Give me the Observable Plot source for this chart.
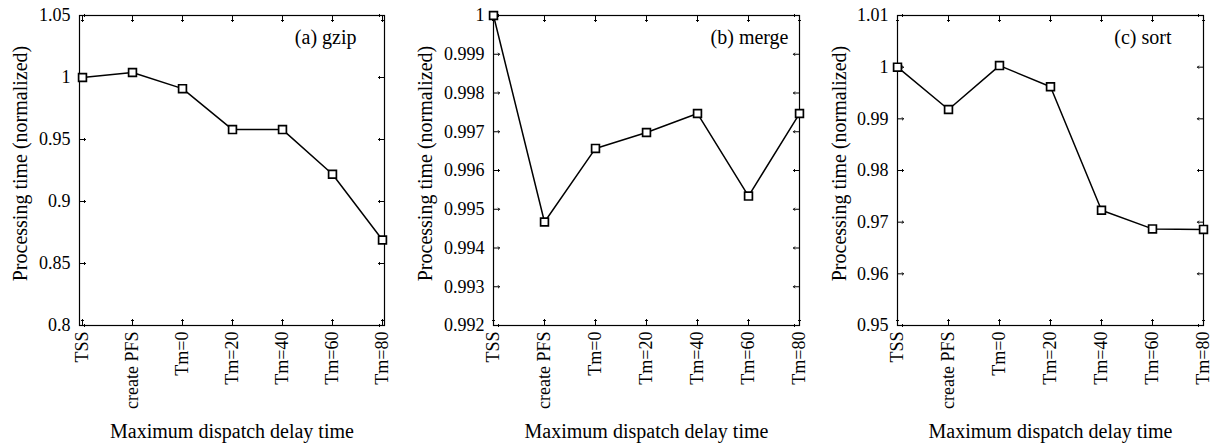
<!DOCTYPE html>
<html>
<head>
<meta charset="utf-8">
<script src="https://cdn.jsdelivr.net/npm/d3@7"></script>
<script src="https://cdn.jsdelivr.net/npm/@observablehq/plot@0.6"></script>
<style>
  html, body { margin: 0; padding: 0; background: #fff; }
  #wrap { position: relative; width: 1214px; height: 445px; font-family: "Liberation Serif", "Times New Roman", serif; }
  .panel { position: absolute; top: 0; }
</style>
</head>
<body>
<div id="wrap"></div>
<script>
const categories = ["TSS", "create PFS", "Tm=0", "Tm=20", "Tm=40", "Tm=60", "Tm=80"];
const gzipValues  = [1.000, 1.004, 0.991, 0.958, 0.958, 0.922, 0.869];
const mergeValues = [1.0000, 0.99467, 0.99657, 0.99698, 0.99747, 0.99534, 0.99747];
const sortValues  = [1.0000, 0.9918, 1.0003, 0.9962, 0.9723, 0.9687, 0.9686];
const gzipTicks  = [0.8, 0.85, 0.9, 0.95, 1, 1.05];
const mergeTicks = [0.992, 0.993, 0.994, 0.995, 0.996, 0.997, 0.998, 0.999, 1];
const sortTicks  = [0.95, 0.96, 0.97, 0.98, 0.99, 1, 1.01];
const panelTitles = ["(a) gzip", "(b) merge", "(c) sort"];
const xLabel = "Maximum dispatch delay time";
const yLabel = "Processing time (normalized)";

const panels = [
  {values: gzipValues,  ticks: gzipTicks,  title: panelTitles[0], left: 0,   width: 405, ml: 79, mr: 21, tdx: -28, ydx: -59},
  {values: mergeValues, ticks: mergeTicks, title: panelTitles[1], left: 405, width: 405, ml: 88, mr: 11, tdx: -11, ydx: -68},
  {values: sortValues,  ticks: sortTicks,  title: panelTitles[2], left: 810, width: 404, ml: 87, mr: 11, tdx: -32, ydx: -58}
];

const fmt = d => String(Math.round(d * 1000) / 1000);
const FS = 18;
const LFS = 20;

for (const p of panels) {
  const data = categories.map((c, i) => ({cat: c, v: p.values[i]}));
  const chart = Plot.plot({
    width: p.width,
    height: 445,
    marginLeft: p.ml,
    marginRight: p.mr,
    marginTop: 15,
    marginBottom: 120,
    style: {fontFamily: '"Liberation Serif", "Times New Roman", serif', fontSize: FS + "px", color: "black", background: "white"},
    x: {type: "point", domain: categories, padding: 0, label: null},
    y: {domain: [p.ticks[0], p.ticks[p.ticks.length - 1]], label: null},
    marks: [
      Plot.frame({stroke: "black", strokeWidth: 1.2}),
      Plot.vector(p.ticks, {y: d => d, frameAnchor: "left", rotate: 90, length: 6, anchor: "start", stroke: "black", strokeWidth: 1}),
      Plot.vector(p.ticks, {y: d => d, frameAnchor: "right", rotate: -90, length: 6, anchor: "start", stroke: "black", strokeWidth: 1}),
      Plot.vector(categories, {x: d => d, frameAnchor: "bottom", rotate: 0, length: 6, anchor: "start", stroke: "black", strokeWidth: 1}),
      Plot.vector(categories, {x: d => d, frameAnchor: "top", rotate: 180, length: 6, anchor: "start", stroke: "black", strokeWidth: 1}),
      Plot.axisY(p.ticks, {anchor: "left", tickSize: 0, tickPadding: 9, tickFormat: fmt, fontSize: FS, label: null}),
      Plot.axisX({anchor: "bottom", tickSize: 0, tickPadding: 6, tickRotate: -90, fontSize: FS, label: null}),
      Plot.line(data, {x: "cat", y: "v", stroke: "black", strokeWidth: 1.5}),
      Plot.dot(data, {x: "cat", y: "v", symbol: "square", r: 4.4, stroke: "black", strokeWidth: 1.7, fill: "white"}),
      Plot.text([p.title], {frameAnchor: "top-right", dx: p.tdx, dy: 22, textAnchor: "end", lineAnchor: "middle", fontSize: LFS, fill: "black"}),
      Plot.text([xLabel], {frameAnchor: "bottom", dy: 106, textAnchor: "middle", lineAnchor: "middle", fontSize: LFS, fill: "black"}),
      Plot.text([yLabel], {frameAnchor: "left", dx: p.ydx, dy: -7, rotate: -90, textAnchor: "middle", lineAnchor: "middle", fontSize: LFS, fill: "black"})
    ]
  });
  const div = document.createElement("div");
  div.className = "panel";
  div.style.left = p.left + "px";
  div.appendChild(chart);
  document.getElementById("wrap").appendChild(div);
}
</script>
</body>
</html>
